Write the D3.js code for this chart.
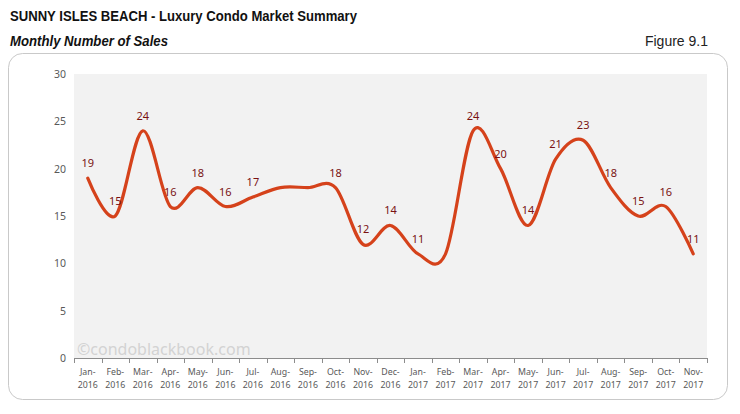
<!DOCTYPE html>
<html>
<head>
<meta charset="utf-8">
<script src="https://cdn.jsdelivr.net/npm/d3@7"></script>
<style>
  body { margin: 0; background: #fff; }
  svg { display: block; }
</style>
</head>
<body>
<svg id="chart" width="740" height="414"></svg>
<script>
// months shown on the x axis
const months = ["Jan-2016","Feb-2016","Mar-2016","Apr-2016","May-2016","Jun-2016","Jul-2016",
  "Aug-2016","Sep-2016","Oct-2016","Nov-2016","Dec-2016","Jan-2017","Feb-2017","Mar-2017",
  "Apr-2017","May-2017","Jun-2017","Jul-2017","Aug-2017","Sep-2017","Oct-2017","Nov-2017"];
// number of sales each month
const sales = [19,15,24,16,18,16,17,18,18,18,12,14,11,11,24,20,14,21,23,18,15,16,11];
// which points carry a value label in the original
const labelled = [1,1,1,1,1,1,1,0,0,1,1,1,1,0,1,1,1,1,1,1,1,1,1];
const yTicks = [0,5,10,15,20,25,30];

const svg = d3.select("svg#chart");
const narrow = "'Liberation Sans Narrow','Arial Narrow','Liberation Sans',sans-serif";
const body = "'Noto Sans','Open Sans',sans-serif";

// header texts (squeezed to the narrow width of the original)
svg.append("text").attr("x", 10).attr("y", 21)
  .attr("font-family", narrow).attr("font-weight", "bold").attr("font-size", 14.5)
  .attr("textLength", 347).attr("lengthAdjust", "spacingAndGlyphs")
  .attr("fill", "#111").text("SUNNY ISLES BEACH - Luxury Condo Market Summary");
svg.append("text").attr("x", 10).attr("y", 46)
  .attr("font-family", narrow).attr("font-weight", "bold").attr("font-style", "italic")
  .attr("font-size", 14.5).attr("textLength", 158).attr("lengthAdjust", "spacingAndGlyphs")
  .attr("fill", "#111").text("Monthly Number of Sales");
svg.append("text").attr("x", 708).attr("y", 46).attr("text-anchor", "end")
  .attr("font-family", narrow).attr("font-size", 14).attr("fill", "#222").text("Figure 9.1");

// card
svg.append("rect").attr("x", 8.5).attr("y", 53.5).attr("width", 719).attr("height", 346)
  .attr("rx", 14).attr("fill", "#fff").attr("stroke", "#c9c9c9");

// scales
let pLeft = 74, pRight = 707, pTop = 74, pBottom = 358;
let x = d3.scaleBand().domain(months).range([pLeft, pRight]);
let y = d3.scaleLinear().domain([0, 30]).range([pBottom, pTop]);
let cx = m => x(m) + x.bandwidth() / 2;

// plot background
svg.append("rect").attr("x", pLeft).attr("y", pTop)
  .attr("width", pRight - pLeft).attr("height", pBottom - pTop).attr("fill", "#f2f2f2");

// watermark
svg.append("text").attr("x", 77).attr("y", 355)
  .attr("font-family", body).attr("font-size", 16).attr("fill", "#d3d3d3")
  .text("\u00a9condoblackbook.com");

// y axis labels
let yAxis = svg.append("g").attr("transform", `translate(${pLeft - 8},0)`)
  .call(d3.axisLeft(y).tickValues(yTicks).tickSize(0).tickPadding(0));
yAxis.select(".domain").remove();
yAxis.selectAll("text").attr("font-family", body).attr("font-size", 10.5).attr("fill", "#595959");

// x axis line and boundary ticks
svg.append("line").attr("x1", pLeft).attr("x2", pRight).attr("y1", pBottom + 0.5).attr("y2", pBottom + 0.5)
  .attr("stroke", "#8c8c8c");
for (let i = 0; i <= months.length; i++) {
  let xt = Math.round(pLeft + i * x.step()) + 0.5;
  svg.append("line").attr("x1", xt).attr("x2", xt).attr("y1", pBottom).attr("y2", pBottom + 5)
    .attr("stroke", "#8c8c8c");
}

// x labels, two lines each
let xl = svg.append("g").selectAll("text").data(months).enter().append("text")
  .attr("text-anchor", "middle").attr("font-family", body).attr("font-size", 8.8)
  .attr("fill", "#595959");
xl.append("tspan").attr("x", d => cx(d)).attr("y", 375).text(d => d.split("-")[0] + "-");
xl.append("tspan").attr("x", d => cx(d)).attr("y", 388).text(d => d.split("-")[1]);

// smooth line
let line = d3.line()
  .x((d, i) => cx(months[i]))
  .y(d => y(d))
  .curve(d3.curveCardinal.tension(0));
svg.append("path").datum(sales).attr("d", line)
  .attr("fill", "none").attr("stroke", "#d5421b").attr("stroke-width", 3.2)
  .attr("stroke-linecap", "round").attr("stroke-linejoin", "round");

// value labels
let points = sales.map((v, i) => ({month: months[i], value: v, show: labelled[i]}))
  .filter(p => p.show);
svg.append("g").selectAll("text").data(points).enter().append("text")
  .attr("x", p => cx(p.month))
  .attr("y", p => y(p.value) - 11)
  .attr("text-anchor", "middle").attr("font-family", body).attr("font-size", 11)
  .attr("fill", "#7a1212").text(p => p.value);
</script>
</body>
</html>
